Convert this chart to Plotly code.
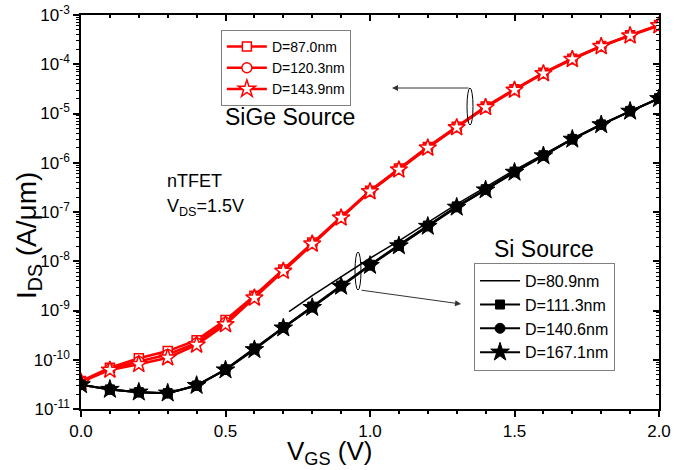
import plotly.graph_objects as go

# ---------------- data ----------------
vgs = [0.0, 0.1, 0.2, 0.3, 0.4, 0.5, 0.6, 0.7, 0.8, 0.9, 1.0,
       1.1, 1.2, 1.3, 1.4, 1.5, 1.6, 1.7, 1.8, 1.9, 2.0]

# SiGe source (red)
sige_87_0 = [3.7e-11, 6.9e-11, 1.07e-10, 1.5e-10, 2.5e-10, 6.4e-10, 2.0e-9, 6.8e-9, 2.4e-8, 8.0e-8, 2.7e-7,
             7.6e-7, 2.1e-6, 5.4e-6, 1.38e-5, 3.1e-5, 6.7e-5, 1.3e-4, 2.35e-4, 3.9e-4, 6.3e-4]
sige_120_3 = [3.6e-11, 6.5e-11, 9.2e-11, 1.28e-10, 2.2e-10, 5.7e-10, 1.9e-9, 6.5e-9, 2.3e-8, 7.8e-8, 2.65e-7,
              7.4e-7, 2.05e-6, 5.3e-6, 1.35e-5, 3.05e-5, 6.6e-5, 1.28e-4, 2.32e-4, 3.85e-4, 6.2e-4]
sige_143_9 = [3.5e-11, 6.2e-11, 8.1e-11, 1.1e-10, 2.0e-10, 5.2e-10, 1.8e-9, 6.3e-9, 2.25e-8, 7.6e-8, 2.6e-7,
              7.2e-7, 2.0e-6, 5.2e-6, 1.33e-5, 3.0e-5, 6.5e-5, 1.26e-4, 2.3e-4, 3.8e-4, 6.1e-4]

# Si source (black)
vgs_80_9 = [0.72, 0.8, 0.9, 1.0, 1.1, 1.2, 1.3, 1.4, 1.5, 1.6, 1.7, 1.8, 1.9, 2.0]
si_80_9 = [9.5e-10, 2.0e-9, 4.8e-9, 1.15e-8, 2.6e-8, 6.2e-8, 1.45e-7, 3.2e-7, 7.1e-7, 1.48e-6, 3.1e-6, 6.0e-6, 1.12e-5, 2.05e-5]
si_111_3 = [3.1e-11, 2.5e-11, 2.2e-11, 2.1e-11, 3.0e-11, 6.4e-11, 1.7e-10, 4.6e-10, 1.2e-9, 3.2e-9, 8.5e-9,
            2.15e-8, 5.3e-8, 1.3e-7, 2.9e-7, 6.6e-7, 1.42e-6, 3.05e-6, 6.0e-6, 1.13e-5, 2.05e-5]
si_140_6 = [3.1e-11, 2.5e-11, 2.2e-11, 2.1e-11, 3.0e-11, 6.3e-11, 1.65e-10, 4.5e-10, 1.17e-9, 3.15e-9, 8.3e-9,
            2.1e-8, 5.2e-8, 1.27e-7, 2.85e-7, 6.5e-7, 1.4e-6, 3.0e-6, 5.95e-6, 1.12e-5, 2.03e-5]
si_167_1 = [3.1e-11, 2.5e-11, 2.2e-11, 2.1e-11, 3.0e-11, 6.2e-11, 1.6e-10, 4.4e-10, 1.15e-9, 3.1e-9, 8.2e-9,
            2.05e-8, 5.1e-8, 1.25e-7, 2.8e-7, 6.4e-7, 1.38e-6, 3.0e-6, 5.9e-6, 1.11e-5, 2.0e-5]

y_tickvals = [1e-11, 1e-10, 1e-9, 1e-8, 1e-7, 1e-6, 1e-5, 1e-4, 1e-3]
y_ticktext = ["10<sup>-11</sup>", "10<sup>-10</sup>", "10<sup>-9</sup>", "10<sup>-8</sup>",
              "10<sup>-7</sup>", "10<sup>-6</sup>", "10<sup>-5</sup>", "10<sup>-4</sup>", "10<sup>-3</sup>"]
x_tickvals = [0.0, 0.5, 1.0, 1.5, 2.0]
x_ticktext = ["0.0", "0.5", "1.0", "1.5", "2.0"]

FONT = "Liberation Sans, Arial, sans-serif"
RED = "#ff0000"

fig = go.Figure()

# SiGe traces
for name, ys, sym, sz in [("D=87.0nm", sige_87_0, "square", 9),
                          ("D=120.3nm", sige_120_3, "circle", 10),
                          ("D=143.9nm", sige_143_9, "star", 13)]:
    fig.add_trace(go.Scatter(
        x=vgs, y=ys, name=name, mode="lines+markers", legend="legend",
        line=dict(color=RED, width=2.5),
        marker=dict(symbol=sym, size=sz, color="white", line=dict(color=RED, width=1.5)),
    ))

# Si traces
fig.add_trace(go.Scatter(
    x=vgs_80_9, y=si_80_9, name="D=80.9nm", mode="lines", legend="legend2",
    line=dict(color="black", width=1.5),
))
for name, ys, sym, sz in [("D=111.3nm", si_111_3, "square", 9),
                          ("D=140.6nm", si_140_6, "circle", 10),
                          ("D=167.1nm", si_167_1, "star", 14)]:
    fig.add_trace(go.Scatter(
        x=vgs, y=ys, name=name, mode="lines+markers", legend="legend2",
        line=dict(color="black", width=2),
        marker=dict(symbol=sym, size=sz, color="black", line=dict(color="black", width=1)),
    ))

axis_common = dict(showgrid=False, zeroline=False, linecolor="black", linewidth=1.5,
                   tickcolor="black", tickwidth=1.5, ticklen=6, automargin=False,
                   tickfont=dict(family=FONT, size=17, color="black"))

fig.update_layout(
    width=674, height=470,
    margin=dict(l=81, r=15, t=15, b=61),
    paper_bgcolor="white", plot_bgcolor="white",
    font=dict(family=FONT, color="black"),
    xaxis=dict(range=[0, 2.0], tickmode="array", tickvals=x_tickvals, ticktext=x_ticktext,
               ticks="outside", minor=dict(dtick=0.1, ticks="outside", ticklen=3, tickwidth=1.5,
                                           tickcolor="black"),
               **axis_common),
    yaxis=dict(type="log", range=[-11, -3], tickmode="array", tickvals=y_tickvals, ticktext=y_ticktext,
               ticks="outside", minor=dict(dtick="D1", ticks="outside", ticklen=3, tickwidth=1.2,
                                           tickcolor="black"),
               **axis_common),
    xaxis2=dict(overlaying="x", side="top", range=[0, 2.0], tickmode="array", tickvals=x_tickvals,
                showticklabels=False, ticks="inside",
                minor=dict(dtick=0.1, ticks="inside", ticklen=3, tickwidth=1.5, tickcolor="black"),
                **axis_common),
    yaxis2=dict(overlaying="y", side="right", type="log", range=[-11, -3], tickmode="array",
                tickvals=y_tickvals, showticklabels=False, ticks="inside",
                minor=dict(dtick="D1", ticks="inside", ticklen=3, tickwidth=1.2, tickcolor="black"),
                **axis_common),
    legend=dict(x=0.242, y=0.962, xanchor="left", yanchor="top",
                bgcolor="white", bordercolor="#808080", borderwidth=1,
                font=dict(family=FONT, size=14, color="black"), tracegroupgap=0,
                itemwidth=40),
    legend2=dict(x=0.680, y=0.371, xanchor="left", yanchor="top",
                 bgcolor="white", bordercolor="#808080", borderwidth=1,
                 font=dict(family=FONT, size=16, color="black"), tracegroupgap=0,
                 itemwidth=40),
    showlegend=True,
)

# invisible trace to keep secondary axes drawn
fig.add_trace(go.Scatter(x=[None], y=[None], xaxis="x2", yaxis="y2", showlegend=False,
                         hoverinfo="skip"))


def px_x(p):
    return (p - 81) / 578


def px_y(p):
    return (409 - p) / 394


def label(text, cx, cy, size, angle=0):
    return dict(text=text, x=px_x(cx), y=px_y(cy), xref="paper", yref="paper", showarrow=False,
                textangle=angle, xanchor="center", yanchor="middle",
                font=dict(size=size, family=FONT, color="black"))


annots = [
    label("V<sub>GS</sub> (V)", 330, 452, 26),
    label("I<sub>DS</sub> (A/μm)", 29, 236, 28, angle=-90),
    label("SiGe Source", 290, 117, 23),
    label("Si Source", 544, 249, 23),
    label("nTFET", 194, 181, 18),
    label("V<sub>DS</sub>=1.5V", 205, 207, 18),
    # arrows
    dict(text="", x=px_x(392), y=px_y(88), xref="paper", yref="paper",
         showarrow=True, ax=78, ay=0, arrowhead=2, arrowsize=1.2, arrowwidth=1, arrowcolor="#333"),
    dict(text="", x=px_x(461), y=px_y(304), xref="paper", yref="paper",
         showarrow=True, ax=-101, ay=-14, arrowhead=2, arrowsize=1.2, arrowwidth=1, arrowcolor="#333"),
]
fig.update_layout(annotations=annots)

fig.add_shape(type="circle", xref="paper", yref="paper",
              x0=px_x(467), x1=px_x(473), y0=px_y(125), y1=px_y(88),
              line=dict(color="black", width=1))
fig.add_shape(type="circle", xref="paper", yref="paper",
              x0=px_x(355), x1=px_x(361), y0=px_y(290), y1=px_y(252),
              line=dict(color="black", width=1))

fig.write_html("out.html", config={"displayModeBar": False},
               post_script="document.body.style.margin='0px';document.body.style.padding='0px';")
